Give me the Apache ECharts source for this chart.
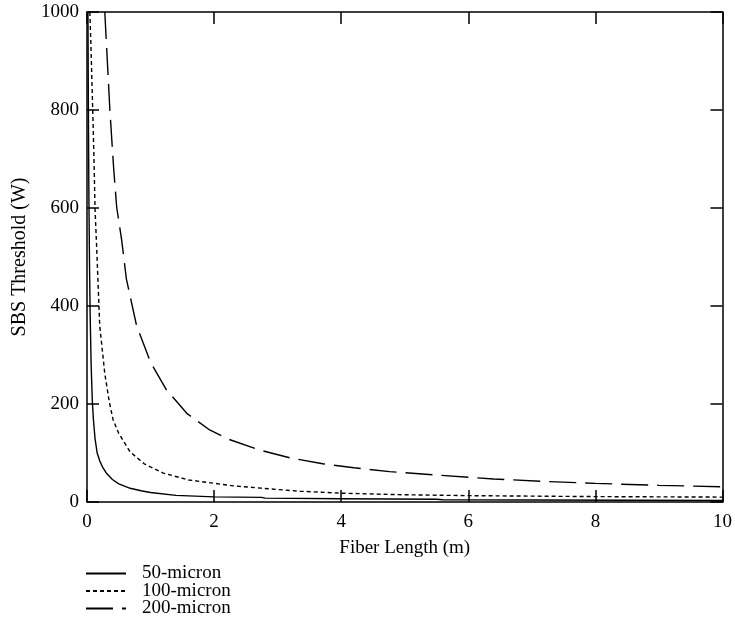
<!DOCTYPE html>
<html>
<head>
<meta charset="utf-8">
<script src="https://cdn.jsdelivr.net/npm/echarts@6/dist/echarts.min.js"></script>
<style>html,body{margin:0;padding:0;background:#fff;}#c{width:735px;height:634px;}</style>
</head>
<body>
<div id="c"></div>
<script>
const seriesNames = ['50-micron', '100-micron', '200-micron'];
const len50 = [0.015,0.02,0.03,0.04,0.05,0.065,0.084,0.1,0.126,0.16,0.2,0.25,0.31,0.4,0.5,0.68,0.85,1.0,1.4,2.0,2.75,2.8,4.0,5.5,5.6,7.0,8.5,10];
const thr50 = [1000,850,620,480,380,280,205,170,130,100,84,70,58,46,37,28,23,19.5,13.5,10.5,9.5,8,6.5,5.5,4.5,4,3.5,3];
const len100 = [0.045,0.06,0.075,0.09,0.11,0.126,0.152,0.2,0.28,0.35,0.41,0.5,0.68,0.9,1.2,1.6,2.3,3.0,3.35,4.0,4.9,6.0,7.0,8.0,9.0,10];
const thr100 = [1000,940,870,800,700,600,520,360,262,205,168,140,102,78,59,45,33,25.5,22,18,15,13,12,11,10.5,10];
const len200 = [0.28,0.3,0.36,0.42,0.467,0.545,0.62,0.78,1.0,1.25,1.57,1.93,2.25,2.72,3.2,3.71,4.2,4.76,5.5,6.4,7.2,8.0,9.0,10];
const thr200 = [1000,950,800,680,602,535,455,360,285,229,181,147,127,106,90,78,70,62,55,47,42,38,34,31];
const xTicks = [0, 2, 4, 6, 8, 10];
const yTicks = [0, 200, 400, 600, 800, 1000];

const zip = (a, b) => a.map((v, i) => [v, b[i]]);
const FONT = 'Liberation Serif';
const chart = echarts.init(document.getElementById('c'), null, {renderer: 'canvas'});
const axisLine = () => ({show: true, onZero: false, lineStyle: {color: '#000', width: 1.5}});
const tick = () => ({show: true, inside: true, length: 12, lineStyle: {color: '#000', width: 1.5}});
const lbl = {color: '#000', fontFamily: FONT, fontSize: 19, formatter: v => String(v)};
const mk = (name, data, dash) => ({
  name, type: 'line', data, symbol: 'none', showSymbol: false, smooth: false,
  xAxisIndex: 0, yAxisIndex: 0,
  lineStyle: {color: '#000', width: 1.4, type: dash},
  itemStyle: {color: '#000'}, z: 3
});
chart.setOption({
  animation: false,
  backgroundColor: '#fff',
  grid: {left: 87, right: 11, top: 12, bottom: 132},
  legend: {
    orient: 'vertical', left: 85, top: 564, padding: 0, height: 70,
    itemWidth: 40, itemHeight: 14, itemGap: -1.5,
    itemStyle: {opacity: 0},
    textStyle: {color: '#000', fontFamily: FONT, fontSize: 19, padding: [0, 0, 0, 11]},
    data: seriesNames
  },
  xAxis: [
    {type: 'value', min: xTicks[0], max: xTicks[xTicks.length - 1], interval: 2, position: 'bottom',
     axisLine: axisLine(), axisTick: tick(), splitLine: {show: false},
     axisLabel: Object.assign({margin: 11}, lbl),
     name: 'Fiber Length (m)', nameLocation: 'middle', nameGap: 37,
     nameTextStyle: {color: '#000', fontFamily: FONT, fontSize: 19}},
    {type: 'value', min: xTicks[0], max: xTicks[xTicks.length - 1], interval: 2, position: 'top',
     axisLine: axisLine(), axisTick: tick(), splitLine: {show: false}, axisLabel: {show: false}}
  ],
  yAxis: [
    {type: 'value', min: yTicks[0], max: yTicks[yTicks.length - 1], interval: 200, position: 'left',
     axisLine: axisLine(), axisTick: tick(), splitLine: {show: false},
     axisLabel: Object.assign({margin: 8}, lbl),
     name: 'SBS Threshold (W)', nameLocation: 'middle', nameGap: 55,
     nameTextStyle: {color: '#000', fontFamily: FONT, fontSize: 20}},
    {type: 'value', min: yTicks[0], max: yTicks[yTicks.length - 1], interval: 200, position: 'right',
     axisLine: axisLine(), axisTick: tick(), splitLine: {show: false}, axisLabel: {show: false}}
  ],
  series: [
    mk(seriesNames[0], zip(len50, thr50), 'solid'),
    mk(seriesNames[1], zip(len100, thr100), [4, 3]),
    mk(seriesNames[2], zip(len200, thr200), [27, 9])
  ]
});
</script>
</body>
</html>
